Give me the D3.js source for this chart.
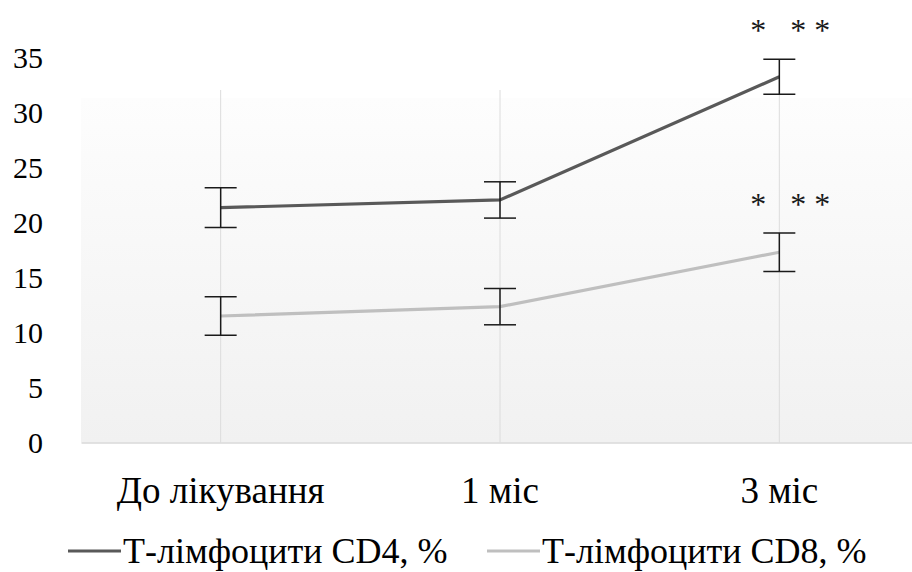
<!DOCTYPE html>
<html>
<head>
<meta charset="utf-8">
<script src="https://cdn.jsdelivr.net/npm/d3@7"></script>
<style>
  text { font-family: 'Liberation Serif' !important; }
</style>
</head>
<body style="margin:0">
<script>
// Data
const categories = ["До лікування", "1 міс", "3 міс"];
const seriesNames = ["Т-лімфоцити CD4, %", "Т-лімфоцити CD8, %"];
const cd4Values = [21.35, 22.05, 33.25];
const cd4Errors = [1.8, 1.65, 1.6];
const cd8Values = [11.5, 12.35, 17.3];
const cd8Errors = [1.75, 1.65, 1.75];
const yTicks = [0, 5, 10, 15, 20, 25, 30, 35];
const markers = ["", "", "*   * *"];

const FONT = "Times New Roman";

function createLineChart() {
  const width = 912;
  const height = 572;
  const margin = { top: 57.5, right: -7, bottom: 129.5, left: 81 };

  const svg = d3.select("body")
    .append("svg")
    .attr("width", width)
    .attr("height", height);

  // Scales
  const x = d3.scaleBand()
    .domain(categories)
    .range([margin.left, width - margin.right])
    .padding(0);

  const y = d3.scaleLinear()
    .domain([0, 35])
    .range([height - margin.bottom, margin.top]);

  const cx = d => x(d) + x.bandwidth() / 2;

  // Plot area gradient
  const grad = svg.append("defs").append("linearGradient")
    .attr("id", "plotGrad")
    .attr("x1", 0).attr("y1", 0)
    .attr("x2", 0).attr("y2", 1);
  grad.append("stop").attr("offset", "0%").attr("stop-color", "#fdfdfd");
  grad.append("stop").attr("offset", "100%").attr("stop-color", "#f1f1f1");

  const plotTop = 98;
  svg.append("rect")
    .attr("x", margin.left)
    .attr("y", plotTop)
    .attr("width", width - margin.right - margin.left)
    .attr("height", y(0) - plotTop)
    .attr("fill", "url(#plotGrad)");

  // Vertical gridlines
  svg.append("g")
    .selectAll("line")
    .data(categories)
    .join("line")
    .attr("x1", d => cx(d))
    .attr("x2", d => cx(d))
    .attr("y1", 90)
    .attr("y2", y(0))
    .attr("stroke", "#dcdcdc")
    .attr("stroke-width", 1);

  // X axis (baseline + labels)
  const xAxis = svg.append("g")
    .attr("transform", `translate(0, ${y(0)})`)
    .call(d3.axisBottom(x).tickSize(0).tickPadding(34))
    .attr("font-family", null)
    .attr("font-size", null);
  xAxis.select(".domain")
    .attr("stroke", "#d9d9d9")
    .attr("stroke-width", 1.5);
  xAxis.selectAll("text")
    .attr("font-family", FONT)
    .attr("font-size", 37)
    .attr("fill", "#000");

  // Y axis (labels only)
  const yAxis = svg.append("g")
    .attr("transform", `translate(${margin.left}, 0)`)
    .call(d3.axisLeft(y).tickValues(yTicks).tickSize(0).tickPadding(38))
    .attr("font-family", null)
    .attr("font-size", null);
  yAxis.select(".domain").remove();
  yAxis.selectAll("text")
    .attr("font-family", FONT)
    .attr("font-size", 30)
    .attr("fill", "#000");

  const series = [
    { name: seriesNames[0], values: cd4Values, errors: cd4Errors, color: "#595959" },
    { name: seriesNames[1], values: cd8Values, errors: cd8Errors, color: "#bfbfbf" }
  ];

  const line = d3.line()
    .x((d, i) => cx(categories[i]))
    .y(d => y(d));

  series.forEach(s => {
    // Line
    svg.append("path")
      .datum(s.values)
      .attr("d", line)
      .attr("fill", "none")
      .attr("stroke", s.color)
      .attr("stroke-width", 3.2);

    // Error bars
    s.values.forEach((v, i) => {
      const xp = cx(categories[i]);
      const e = s.errors[i];
      const g = svg.append("g")
        .attr("stroke", "#1a1a1a")
        .attr("stroke-width", 1.5);
      g.append("line")
        .attr("x1", xp).attr("x2", xp)
        .attr("y1", y(v + e)).attr("y2", y(v - e));
      g.append("line")
        .attr("x1", xp - 16).attr("x2", xp + 16)
        .attr("y1", y(v + e)).attr("y2", y(v + e));
      g.append("line")
        .attr("x1", xp - 16).attr("x2", xp + 16)
        .attr("y1", y(v - e)).attr("y2", y(v - e));

      // Significance markers
      if (markers[i]) {
        svg.append("text")
          .attr("x", xp - 29)
          .attr("y", y(v + e) - 18)
          .attr("font-family", FONT)
          .attr("font-size", 32)
          .style("white-space", "pre")
          .attr("fill", "#1a1a1a")
          .text(markers[i]);
      }
    });
  });

  // Legend
  const legendY = 551;
  const legendItems = [
    { x: 68, color: series[0].color, name: series[0].name },
    { x: 487, color: series[1].color, name: series[1].name }
  ];
  legendItems.forEach(item => {
    svg.append("line")
      .attr("x1", item.x).attr("x2", item.x + 53)
      .attr("y1", legendY).attr("y2", legendY)
      .attr("stroke", item.color)
      .attr("stroke-width", 3.2);
    svg.append("text")
      .attr("x", item.x + 55)
      .attr("y", legendY + 12)
      .attr("font-family", FONT)
      .attr("font-size", 36)
      .attr("fill", "#000")
      .text(item.name);
  });
}

createLineChart();
</script>
</body>
</html>
